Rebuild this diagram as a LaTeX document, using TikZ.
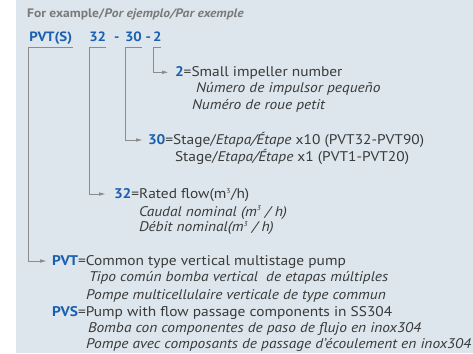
\documentclass[tikz,border=0pt]{standalone}
\usepackage{fontspec}
\setmainfont{PT Sans}[FakeStretch=1.1]
\usetikzlibrary{arrows.meta}
\definecolor{bgc}{HTML}{DCE6EC}
\definecolor{txt}{HTML}{3A3A3A}
\definecolor{blu}{HTML}{1A5FB0}
\definecolor{hdr}{HTML}{7A7A7A}
\definecolor{lin}{HTML}{8C8C8C}
\tikzset{
  lbl/.style={anchor=base west, inner sep=0pt, outer sep=0pt, text=txt, font=\fontsize{14}{16}\selectfont},
  code/.style={anchor=base west, inner sep=0pt, outer sep=0pt, text=blu, font=\fontsize{13.5}{16}\selectfont\bfseries},
  conn/.style={draw=lin, line width=0.8pt, -{Triangle[length=6pt,width=3.2pt]}},
}
\newcommand{\bl}[1]{\textcolor{blu}{\bfseries #1}}
\newcommand{\cubic}{m\textsuperscript{\fontsize{7}{7}\selectfont 3}}
\begin{document}
\begin{tikzpicture}[x=1pt,y=-1pt]
\useasboundingbox (0,0) rectangle (473,353);
\fill[bgc] (16,0) rectangle (473,353);
% header
\node[anchor=base west, inner sep=0pt, text=hdr, font=\fontsize{12.3}{14}\selectfont\bfseries] (hd) at (27,17.3) {For example/\textit{Por ejemplo/Par exemple}};
% code
\node[code] (cPVTS) at (29.3,41.7) {PVT(S)};
\node[code] (c32) at (89.3,41.7) {32};
\node[code] (d1) at (114,41.7) {-};
\node[code] (c30) at (125,41.7) {30};
\node[code] (d2) at (145.5,41.7) {-};
\node[code] (c2) at (153,41.7) {2};
% descriptions
\node[lbl] (e2) at (175,76.7) {\bl{2}=Small impeller number};
\node[lbl] (e2b) at (196,92.7) {\itshape Número de impulsor pequeño};
\node[lbl] (e2c) at (192,109) {\itshape Numéro de roue petit};
\node[lbl] (e30) at (148,144.3) {\bl{30}=Stage/\textit{Etapa/Étape} x10 (PVT32-PVT90)};
\node[lbl] (e30b) at (175,161) {Stage/\textit{Etapa/Étape} x1 (PVT1-PVT20)};
\node[lbl] (e32) at (114,198.3) {\bl{32}=Rated flow(\cubic/h)};
\node[lbl] (e32b) at (139,216) {\itshape Caudal nominal (\cubic\ / h)};
\node[lbl] (e32c) at (139,231.7) {\itshape Débit nominal(\cubic\ / h)};
\node[lbl] (ePVT) at (52,265.7) {\bl{PVT}=Common type vertical multistage pump};
\node[lbl] (ePVTb) at (89,281.7) {\itshape Tipo común bomba vertical\ \ de etapas múltiples};
\node[lbl] (ePVTc) at (86,299) {\itshape Pompe multicellulaire verticale de type commun};
\node[lbl] (ePVS) at (52,316.7) {\bl{PVS}=Pump with flow passage components in SS304};
\node[lbl] (ePVSb) at (88,332.7) {\itshape Bomba con componentes de paso de flujo en inox304};
\node[lbl] (ePVSc) at (86,348) {\itshape Pompe avec composants de passage d'écoulement en inox304};
% connectors
\draw[conn] ([xshift=0.5pt,yshift=-5.6pt]cPVTS.base east) -- ([xshift=-1pt,yshift=-5.6pt]cPVTS.base west) |- ([xshift=-6pt,yshift=4.7pt]ePVT.base west);
\draw[conn] ([yshift=-5.6pt]c32.base east) -- ([yshift=-5.6pt]c32.base west) |- ([xshift=-9pt,yshift=4.3pt]e32.base west);
\draw[conn] ([yshift=-5.6pt]c30.base east) -- ([yshift=-5.6pt]c30.base west) |- ([xshift=-6pt,yshift=4.3pt]e30.base west);
\draw[conn] ([yshift=-5.6pt]c2.base east) -- ([yshift=-5.6pt]c2.base west) |- ([xshift=-7pt,yshift=4.4pt]e2.base west);
\end{tikzpicture}
\end{document}
